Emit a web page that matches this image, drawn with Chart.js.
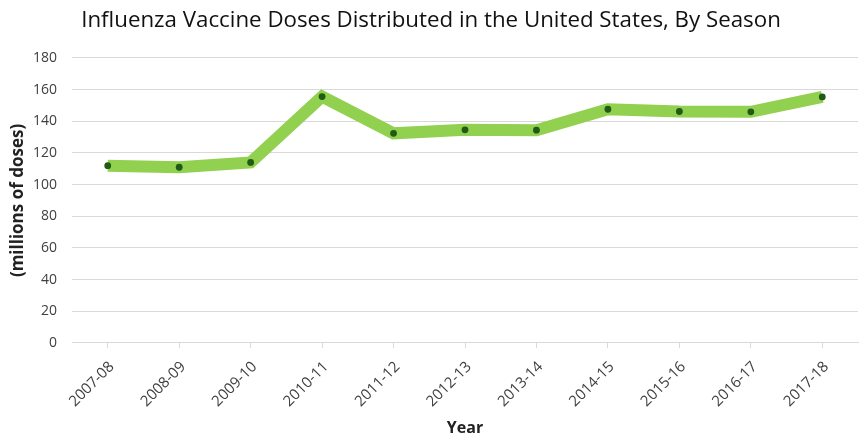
<!DOCTYPE html>
<html>
<head>
<meta charset="utf-8">
<script src="https://cdn.jsdelivr.net/npm/chart.js@4/dist/chart.umd.min.js"></script>
<style>
  html, body { margin: 0; padding: 0; background: #fff; overflow: hidden; }
  #chart { display: block; }
</style>
</head>
<body>
<canvas id="chart" width="862" height="436"></canvas>
<script>
const seasons = ['2007-08', '2008-09', '2009-10', '2010-11', '2011-12', '2012-13',
                 '2013-14', '2014-15', '2015-16', '2016-17', '2017-18'];
// millions of doses distributed
const doses = [112, 111, 114, 155.6, 132.4, 134.6, 134.4, 147.6, 146.2, 146, 155.4];
const yTicks = [0, 20, 40, 60, 80, 100, 120, 140, 160, 180];

const tickColor = '#404040';
const gridColor = '#d9d9d9';

const ctx = document.getElementById('chart').getContext('2d');
new Chart(ctx, {
  type: 'line',
  data: {
    labels: seasons,
    datasets: [{
      label: 'Doses',
      data: doses,
      borderColor: '#92d050',
      borderWidth: 12,
      borderJoinStyle: 'miter',
      borderCapStyle: 'butt',
      tension: 0,
      fill: false,
      pointRadius: 3.4,
      pointBackgroundColor: '#1f5b14',
      pointBorderColor: '#1f5b14',
      pointBorderWidth: 0,
    }],
  },
  options: {
    responsive: false,
    animation: false,
    layout: { padding: 0 },
    plugins: {
      legend: { display: false },
      tooltip: { enabled: false },
      title: {
        display: true,
        text: 'Influenza Vaccine Doses Distributed in the United States, By Season',
        color: '#111',
        font: { family: 'Open Sans', size: 22.3, weight: 'normal', lineHeight: 1.2 },
        padding: { top: 7, bottom: 24.2 },
      },
    },
    scales: {
      x: {
        offset: true,
        grid: {
          display: true,
          drawOnChartArea: false,
          drawTicks: true,
          tickLength: 5,
          color: gridColor,
        },
        border: { color: gridColor },
        ticks: {
          color: tickColor,
          font: { family: 'Open Sans', size: 15 },
          maxRotation: 45,
          minRotation: 45,
          autoSkip: false,
          padding: 10,
          labelOffset: 4,
        },
        title: {
          display: true,
          text: 'Year',
          color: '#222',
          font: { family: 'Open Sans', size: 16, weight: 'bold', lineHeight: 1.0 },
          padding: { top: 0, bottom: 0 },
        },
        afterFit: (scale) => { scale.height = 93; },
      },
      y: {
        min: 0,
        max: 180,
        afterBuildTicks: (scale) => { scale.ticks = yTicks.map((v) => ({ value: v })); },
        grid: { color: gridColor, drawTicks: false },
        border: { display: false },
        ticks: {
          color: tickColor,
          font: { family: 'Open Sans', size: 14 },
          padding: 15,
        },
        title: {
          display: true,
          text: '(millions of doses)',
          color: '#222',
          font: { family: 'Open Sans', size: 17, weight: 'bold' },
          padding: { top: 8, bottom: 0 },
        },
        afterFit: (scale) => { scale.width = 72; },
      },
    },
  },
});
</script>
</body>
</html>
